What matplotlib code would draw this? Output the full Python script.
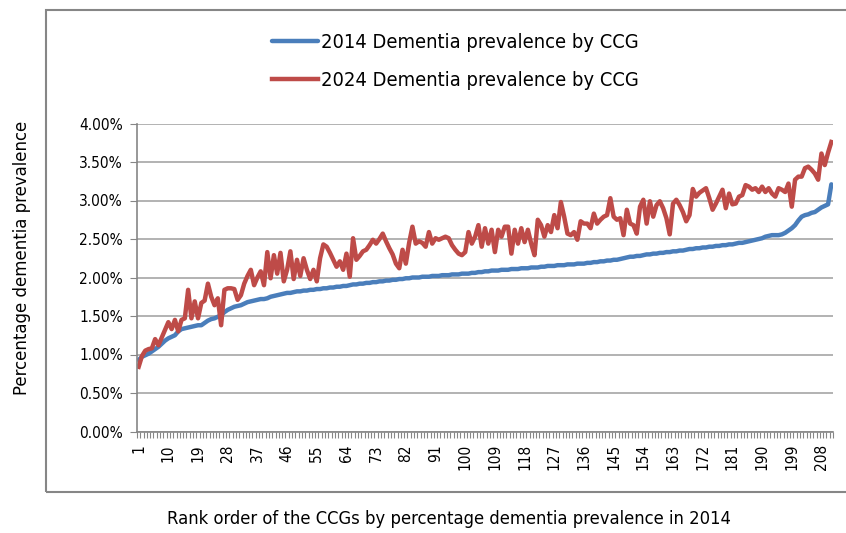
import matplotlib
matplotlib.use('Agg')
import matplotlib.pyplot as plt
from matplotlib import font_manager
from matplotlib.patches import Rectangle
from matplotlib.ticker import FixedLocator, FuncFormatter

# narrow face if there is one
names = {(f.name, f.stretch) for f in font_manager.fontManager.ttflist}
if any(n == 'Liberation Sans Narrow' for n, s in names):
    plt.rcParams['font.family'] = ['Liberation Sans Narrow', 'DejaVu Sans']
    scale = 1.0
elif ('DejaVu Sans', 'condensed') in names or ('DejaVu Sans', 'semi-condensed') in names:
    plt.rcParams['font.family'] = ['DejaVu Sans']
    plt.rcParams['font.stretch'] = 'condensed'
    scale = 0.85
else:
    plt.rcParams['font.family'] = ['Liberation Sans', 'DejaVu Sans']
    scale = 0.86

# CCG prevalence (%), ranked by 2014 value
prev_2014 = [
    0.93, 0.97, 0.99, 1.01, 1.04, 1.07, 1.10, 1.14, 1.18, 1.21,
    1.23, 1.25, 1.30, 1.33, 1.34, 1.35, 1.36, 1.37, 1.38, 1.38,
    1.41, 1.44, 1.46, 1.47, 1.49, 1.51, 1.55, 1.58, 1.60, 1.62,
    1.63, 1.64, 1.66, 1.68, 1.69, 1.70, 1.71, 1.72, 1.72, 1.73,
    1.75, 1.76, 1.77, 1.78, 1.79, 1.80, 1.80, 1.81, 1.82, 1.82,
    1.83, 1.83, 1.84, 1.84, 1.85, 1.85, 1.86, 1.86, 1.87, 1.87,
    1.88, 1.88, 1.89, 1.89, 1.90, 1.91, 1.91, 1.92, 1.92, 1.93,
    1.93, 1.94, 1.94, 1.95, 1.95, 1.96, 1.96, 1.97, 1.97, 1.98,
    1.98, 1.99, 1.99, 2.00, 2.00, 2.00, 2.01, 2.01, 2.01, 2.02,
    2.02, 2.02, 2.03, 2.03, 2.03, 2.04, 2.04, 2.04, 2.05, 2.05,
    2.05, 2.06, 2.06, 2.07, 2.07, 2.08, 2.08, 2.09, 2.09, 2.09,
    2.10, 2.10, 2.10, 2.11, 2.11, 2.11, 2.12, 2.12, 2.12, 2.13,
    2.13, 2.13, 2.14, 2.14, 2.15, 2.15, 2.15, 2.16, 2.16, 2.16,
    2.17, 2.17, 2.17, 2.18, 2.18, 2.18, 2.19, 2.19, 2.20, 2.20,
    2.21, 2.21, 2.22, 2.22, 2.23, 2.23, 2.24, 2.25, 2.26, 2.27,
    2.27, 2.28, 2.28, 2.29, 2.30, 2.30, 2.31, 2.31, 2.32, 2.32,
    2.33, 2.33, 2.34, 2.34, 2.35, 2.35, 2.36, 2.37, 2.37, 2.38,
    2.38, 2.39, 2.39, 2.40, 2.40, 2.41, 2.41, 2.42, 2.42, 2.43,
    2.43, 2.44, 2.45, 2.45, 2.46, 2.47, 2.48, 2.49, 2.50, 2.51,
    2.53, 2.54, 2.55, 2.55, 2.55, 2.56, 2.58, 2.61, 2.64, 2.68,
    2.74, 2.79, 2.81, 2.82, 2.84, 2.85, 2.88, 2.91, 2.93, 2.95, 3.21,
]

prev_2024 = [
    0.84, 0.98, 1.05, 1.07, 1.08, 1.20, 1.12, 1.22, 1.32, 1.42,
    1.33, 1.45, 1.30, 1.45, 1.47, 1.84, 1.47, 1.69, 1.47, 1.67,
    1.70, 1.92, 1.75, 1.64, 1.73, 1.38, 1.84, 1.86, 1.86, 1.85,
    1.71, 1.77, 1.92, 2.02, 2.10, 1.90, 2.00, 2.08, 1.90, 2.33,
    1.99, 2.29, 2.05, 2.32, 1.95, 2.10, 2.34, 1.98, 2.23, 2.02,
    2.25, 2.10, 1.98, 2.10, 1.95, 2.25, 2.43, 2.40, 2.32, 2.23,
    2.14, 2.21, 2.10, 2.31, 2.01, 2.51, 2.23, 2.28, 2.34, 2.36,
    2.42, 2.49, 2.44, 2.50, 2.57, 2.47, 2.38, 2.30, 2.18, 2.12,
    2.36, 2.18, 2.45, 2.66, 2.44, 2.47, 2.45, 2.40, 2.59, 2.44,
    2.51, 2.49, 2.51, 2.53, 2.51, 2.42, 2.36, 2.31, 2.29, 2.33,
    2.59, 2.44, 2.53, 2.68, 2.40, 2.64, 2.44, 2.62, 2.33, 2.62,
    2.53, 2.66, 2.66, 2.31, 2.62, 2.44, 2.64, 2.46, 2.62, 2.44,
    2.29, 2.75, 2.68, 2.53, 2.68, 2.59, 2.81, 2.64, 2.98, 2.79,
    2.57, 2.55, 2.59, 2.49, 2.73, 2.70, 2.70, 2.64, 2.83, 2.70,
    2.75, 2.79, 2.81, 3.03, 2.79, 2.75, 2.77, 2.55, 2.88, 2.70,
    2.68, 2.57, 2.92, 3.01, 2.70, 2.99, 2.79, 2.94, 2.99, 2.90,
    2.77, 2.56, 2.96, 3.01, 2.94, 2.85, 2.73, 2.81, 3.15, 3.05,
    3.10, 3.13, 3.16, 3.03, 2.88, 2.96, 3.05, 3.14, 2.90, 3.09,
    2.95, 2.96, 3.05, 3.07, 3.20, 3.18, 3.14, 3.16, 3.11, 3.18,
    3.11, 3.16, 3.09, 3.05, 3.16, 3.14, 3.11, 3.22, 2.92, 3.27,
    3.31, 3.31, 3.42, 3.44, 3.40, 3.35, 3.27, 3.61, 3.46, 3.62, 3.76,
]

ranks = list(range(1, len(prev_2014) + 1))
label_ranks = ranks[::9]          # 1, 10, 19, ... 208
y_ticks = [0, 0.5, 1.0, 1.5, 2.0, 2.5, 3.0, 3.5, 4.0]

blue = '#4A7EBB'
red = '#BE4B48'
grid_grey = '#A6A6A6'
frame_grey = '#868686'

W, H = 846, 533
fig = plt.figure(figsize=(W / 100, H / 100), dpi=100)

# chart frame
fig.patches.append(Rectangle((46 / W, 1 - 492 / H), 1.0, (492 - 10) / H,
                             transform=fig.transFigure, fill=False,
                             edgecolor=frame_grey, linewidth=1.5))

ax = fig.add_axes([137 / W, 1 - 431.5 / H, (833 - 137) / W, (431.5 - 123.5) / H])
ax.plot(ranks, prev_2014, color=blue, lw=3.2, solid_capstyle='round',
        label='2014 Dementia prevalence by CCG')
ax.plot(ranks, prev_2024, color=red, lw=3.2, solid_joinstyle='round',
        label='2024 Dementia prevalence by CCG')

ax.set_xlim(0.5, len(ranks) + 0.5)
ax.set_ylim(0, 4.0)
ax.set_yticks(y_ticks)
ax.yaxis.set_major_formatter(FuncFormatter(lambda v, p: '%.2f%%' % v))
ax.grid(axis='y', color=grid_grey, lw=1.2)
ax.set_axisbelow(True)

ax.xaxis.set_major_locator(FixedLocator(label_ranks))
ax.set_xticklabels([str(r) for r in label_ranks], rotation=90)
ax.xaxis.set_minor_locator(FixedLocator([r + 0.5 for r in range(len(ranks) + 1)]))
ax.tick_params(axis='x', which='major', length=0, pad=9, labelsize=13 * scale)
ax.tick_params(axis='x', which='minor', length=4, color=frame_grey, width=0.8)
ax.tick_params(axis='y', length=5, color=frame_grey, labelsize=13 * scale, pad=5)

for s in ['top', 'right']:
    ax.spines[s].set_visible(False)
for s in ['left', 'bottom']:
    ax.spines[s].set_color(frame_grey)
    ax.spines[s].set_linewidth(1.2)

fig.text(22 / W, 1 - 258 / H, 'Percentage dementia prevalence', rotation=90,
         ha='center', va='center', fontsize=15.6 * scale)
fig.text(449 / W, 1 - 519 / H,
         'Rank order of the CCGs by percentage dementia prevalence in 2014',
         ha='center', va='center', fontsize=15.5 * scale)

fig.legend(loc='center', bbox_to_anchor=(455 / W, 1 - 61.5 / H), ncol=1,
           frameon=False, fontsize=17 * scale, handlelength=2.3,
           handletextpad=0.15, labelspacing=0.95)

fig.savefig('out.png', dpi=100)
